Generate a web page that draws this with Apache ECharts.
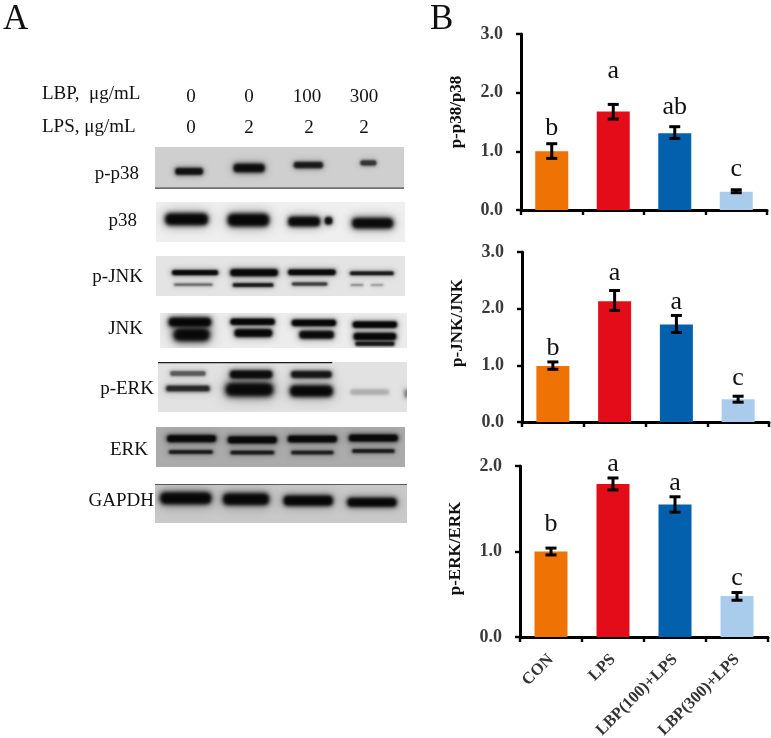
<!DOCTYPE html>
<html>
<head>
<meta charset="utf-8">
<style>
    html, body { margin: 0; padding: 0; background: #fff; }
    #chart { width: 771px; height: 738px; }
</style>
</head>
<body>
<div id="chart"></div>
<script src="https://cdn.jsdelivr.net/npm/echarts@6/dist/echarts.min.js"></script>
<script>
const categories = ['CON', 'LPS', 'LBP(100)+LPS', 'LBP(300)+LPS']
const barColors = ['#ee7204', '#e30c18', '#0360ad', '#a9cbec']

// p-p38/p38
const p38Values = [1.0, 1.68, 1.31, 0.31]
const p38Low = [0.88, 1.55, 1.22, 0.295]
const p38High = [1.13, 1.80, 1.42, 0.345]
const p38Letters = ['b', 'a', 'ab', 'c']
const p38LetterY = [1.29, 2.26, 1.65, 0.59]

// p-JNK/JNK
const jnkValues = [0.99, 2.13, 1.72, 0.40]
const jnkLow = [0.93, 1.97, 1.58, 0.35]
const jnkHigh = [1.06, 2.32, 1.88, 0.455]
const jnkLetters = ['b', 'a', 'a', 'c']
const jnkLetterY = [1.18, 2.51, 2.0, 0.66]

// p-ERK/ERK
const erkValues = [1.0, 1.79, 1.55, 0.48]
const erkLow = [0.96, 1.72, 1.46, 0.43]
const erkHigh = [1.04, 1.86, 1.64, 0.52]
const erkLetters = ['b', 'a', 'a', 'c']
const erkLetterY = [1.24, 1.95, 1.72, 0.61]

// western blot bands: [x%, y%, width%, height%, darkness]
const bandsPp38 = [
    [13.7, 58, 11.4, 17, .85], [37.8, 50, 12.7, 21, .9], [61.6, 43, 12, 16, .75], [85.7, 38, 6.7, 14, .55],
    [50, 98, 100, 3, .65]
]
const bandsP38 = [
    [12.3, 43, 17.4, 30, 1], [37.1, 45, 16.8, 32, 1], [59.5, 49, 13, 25, .95], [69.3, 47, 3, 20, .95], [87, 53, 16.8, 27, .95]
]
const bandsPjnk = [
    [15.7, 41.6, 18.8, 13, .95], [39.4, 41.6, 19.4, 18, 1], [62.6, 40.8, 19.4, 15, .95], [86.7, 43.3, 18, 10, .8],
    [15, 71.6, 16, 7, .4], [39, 72.5, 16.7, 10, .8], [61.7, 70, 14.7, 9, .6], [80.7, 72.5, 5.4, 6, .25], [88.8, 72.5, 5.4, 6, .2]
]
const bandsJnk = [
    [12.1, 26, 17.5, 27, 1], [12.8, 62, 14.8, 38, 1], [37.5, 25, 18.2, 19, 1], [37.8, 57, 15.5, 23, 1],
    [62.3, 28, 18.2, 19, 1], [63.4, 62, 14.2, 23, .95], [87, 33, 18.2, 19, 1], [87, 67, 17.5, 21, 1], [87, 88, 16.2, 13, .8]
]
const bandsPerk = [
    [12, 23, 14.7, 11, .4], [12, 53, 18, 13, .65], [37.4, 25, 17.4, 17, .9], [36.7, 55, 19.4, 27, 1],
    [61.6, 25, 16.7, 15, .8], [61.6, 58, 17.4, 23, 1], [85, 60, 16, 13, .12], [99.7, 63, 1, 20, .5],
    [35, 1, 70, 2.5, .9]
]
const bandsErk = [
    [14.3, 29, 20, 18, 1], [38.7, 32, 20, 18, 1], [62.8, 30, 20, 17, 1], [87.3, 27.5, 20, 18, 1],
    [14, 62.5, 18, 10, .75], [38.7, 64, 18, 10, .75], [62.8, 64, 17.4, 10, .7], [87.3, 60, 17.4, 10, .75]
]
const bandsGapdh = [
    [12.2, 36.5, 20.5, 31, 1], [36.1, 39, 18.5, 30, 1], [60.8, 42.6, 19.8, 26, 1], [86.1, 47, 19.8, 23, 1],
    [50, 1, 100, 2, .75]
]

const lbpDoses = ['0', '0', '100', '300']
const lpsDoses = ['0', '2', '2', '2']

const serif = '"Liberation Serif", "Times New Roman", serif'

const blots = [
    {name: 'p-p38', bands: bandsPp38, bg: '#cfcfcf', left: 155, top: 147, w: 249, h: 42, labelX: 139, baseline: 179},
    {name: 'p38', bands: bandsP38, bg: '#efefef', left: 156, top: 202, w: 249, h: 40, labelX: 137, baseline: 226},
    {name: 'p-JNK', bands: bandsPjnk, bg: '#e4e4e4', left: 156, top: 256, w: 249, h: 40, labelX: 143, baseline: 282},
    {name: 'JNK', bands: bandsJnk, bg: '#ececec', left: 160, top: 313, w: 247, h: 35, labelX: 143, baseline: 334},
    {name: 'p-ERK', bands: bandsPerk, bg: '#e2e2e2', left: 158, top: 362, w: 249, h: 50, labelX: 154, baseline: 394},
    {name: 'ERK', bands: bandsErk, bg: '#ababab', left: 156, top: 427, w: 249, h: 40, labelX: 148, baseline: 455},
    {name: 'GAPDH', bands: bandsGapdh, bg: '#c9c9c9', left: 155, top: 484, w: 252, h: 39, labelX: 154, baseline: 506}
]

const panels = [
    {title: 'p-p38/p38', values: p38Values, low: p38Low, high: p38High, letters: p38Letters, letterY: p38LetterY, max: 3, left: 521, right: 4, top: 34, height: 176, nameShift: 20},
    {title: 'p-JNK/JNK', values: jnkValues, low: jnkLow, high: jnkHigh, letters: jnkLetters, letterY: jnkLetterY, max: 3, left: 522, right: 2, top: 252, height: 170, nameShift: 28},
    {title: 'p-ERK/ERK', values: erkValues, low: erkLow, high: erkHigh, letters: erkLetters, letterY: erkLetterY, max: 2, left: 520, right: 3, top: 466, height: 171, nameShift: 6}
]

// text drawn from its baseline, zrender only knows top/middle/bottom
function textAt(text, x, baseline, size, align, weight) {
    return {
        type: 'text',
        silent: true,
        style: {
            text: text,
            x: x,
            y: baseline - size * 0.25,
            align: align || 'left',
            verticalAlign: 'middle',
            fill: '#111',
            font: (weight || 'normal') + ' ' + size + 'px ' + serif
        }
    }
}

// only the shadow of the rect lands in the grid, so the band has no hard edge
const OFFSCREEN = 3000

function softRect(cx, cy, w, h, alpha, blur) {
    const color = 'rgba(8,8,8,' + alpha + ')'
    return {
        type: 'rect',
        shape: {x: cx - w / 2 - OFFSCREEN, y: cy - h / 2, width: w, height: h, r: h / 2.5},
        style: {fill: color, shadowColor: 'rgba(8,8,8,1)', shadowBlur: blur, shadowOffsetX: OFFSCREEN}
    }
}

function renderBand(params, api) {
    const c = api.coord([api.value(0), api.value(1)])
    const s = api.size([api.value(2), api.value(3)])
    const d = api.value(4)
    // thin lines are blot edges and stay sharp
    if (s[1] < 1.5) {
        return {
            type: 'rect',
            shape: {x: c[0] - s[0] / 2, y: c[1] - s[1] / 2, width: s[0], height: s[1]},
            style: {fill: 'rgba(8,8,8,' + d + ')'},
            silent: true
        }
    }
    const blur = Math.min(7, Math.max(2.5, s[1] * 0.45))
    return {
        type: 'group',
        silent: true,
        children: [
            softRect(c[0], c[1], s[0] * 1.05, s[1] * 1.15, d * 0.35, blur * 2.4),
            softRect(c[0], c[1], s[0], s[1], d, blur),
            softRect(c[0], c[1], s[0] * 0.94, s[1] * 0.8, d * 0.8, blur * 0.6)
        ]
    }
}

function renderError(params, api) {
    const x = api.coord([api.value(0), 0])[0]
    const y0 = api.coord([0, api.value(1)])[1]
    const y1 = api.coord([0, api.value(2)])[1]
    const style = {stroke: '#000', lineWidth: 3, fill: 'none'}
    const half = 5.5
    return {
        type: 'group',
        silent: true,
        children: [
            {type: 'line', shape: {x1: x, y1: y0, x2: x, y2: y1}, style: style},
            {type: 'line', shape: {x1: x - half, y1: y0, x2: x + half, y2: y0}, style: style},
            {type: 'line', shape: {x1: x - half, y1: y1, x2: x + half, y2: y1}, style: style}
        ]
    }
}

function renderLetter(params, api) {
    const p = api.coord([api.value(0), api.value(1)])
    return textAt(api.value(2), p[0], p[1], 26, 'center')
}

const grid = []
const xAxis = []
const yAxis = []
const series = []
const graphic = [
    textAt('A', 3, 29, 35),
    textAt('B', 430, 29, 35),
    textAt('LBP,  μg/mL', 42, 99, 19),
    textAt('LPS, μg/mL', 42, 132, 19)
]

const lbpX = [191, 249, 307, 364]
const lpsX = [191, 249, 309, 364]
lbpDoses.forEach((d, i) => graphic.push(textAt(d, lbpX[i], 102, 19, 'center')))
lpsDoses.forEach((d, i) => graphic.push(textAt(d, lpsX[i], 133, 19, 'center')))

blots.forEach(b => {
    const idx = grid.length
    grid.push({left: b.left, top: b.top, width: b.w, height: b.h, show: true, backgroundColor: b.bg, borderWidth: 0})
    xAxis.push({type: 'value', gridIndex: idx, min: 0, max: 100, show: false})
    yAxis.push({type: 'value', gridIndex: idx, min: 0, max: 100, inverse: true, show: false})
    series.push({
        type: 'custom',
        xAxisIndex: idx,
        yAxisIndex: idx,
        clip: true,
        renderItem: renderBand,
        data: b.bands
    })
    graphic.push(textAt(b.name, b.labelX, b.baseline, 19, 'right'))
})

panels.forEach((p, pi) => {
    const idx = grid.length
    const last = pi === panels.length - 1
    grid.push({left: p.left, right: p.right, top: p.top, height: p.height, outerBoundsMode: 'none'})
    xAxis.push({
        type: 'category',
        gridIndex: idx,
        data: categories,
        axisLine: {lineStyle: {color: '#000', width: 3}},
        axisTick: {show: true, length: 5, lineStyle: {color: '#000', width: 2.4}},
        axisLabel: {
            show: last,
            interval: 0,
            rotate: 45,
            margin: 20,
            color: '#333',
            fontFamily: serif,
            fontWeight: 'bold',
            fontSize: 16.5
        }
    })
    yAxis.push({
        type: 'value',
        gridIndex: idx,
        min: 0,
        max: p.max,
        interval: 1,
        name: p.title,
        nameLocation: 'middle',
        nameRotate: 90,
        nameGap: 56,
        nameTextStyle: {
            color: '#111',
            fontFamily: serif,
            fontWeight: 'bold',
            fontSize: 17,
            padding: [0, 0, 0, p.nameShift]
        },
        splitLine: {show: false},
        axisLine: {show: true, lineStyle: {color: '#000', width: 3}},
        axisTick: {show: true, length: 5, lineStyle: {color: '#000', width: 2.4}},
        axisLabel: {
            margin: 18,
            color: '#3a3a3a',
            fontFamily: serif,
            fontWeight: 'bold',
            fontSize: 18,
            formatter: v => v.toFixed(1)
        }
    })
    series.push({
        type: 'bar',
        name: p.title,
        xAxisIndex: idx,
        yAxisIndex: idx,
        barWidth: 33,
        data: p.values.map((v, i) => ({value: v, itemStyle: {color: barColors[i]}}))
    })
    series.push({
        type: 'custom',
        xAxisIndex: idx,
        yAxisIndex: idx,
        z: 5,
        renderItem: renderError,
        encode: {x: 0, y: [1, 2]},
        data: p.low.map((v, i) => [i, v, p.high[i]])
    })
    series.push({
        type: 'custom',
        xAxisIndex: idx,
        yAxisIndex: idx,
        z: 6,
        renderItem: renderLetter,
        dimensions: ['x', 'y', {name: 'letter', type: 'ordinal'}],
        data: p.letters.map((l, i) => [i, p.letterY[i], l])
    })
})

const chartObj = echarts.init(document.getElementById('chart'), null, {renderer: 'canvas'})
chartObj.setOption({
    animation: false,
    backgroundColor: '#fff',
    grid: grid,
    xAxis: xAxis,
    yAxis: yAxis,
    series: series,
    graphic: graphic
})
</script>
</body>
</html>
